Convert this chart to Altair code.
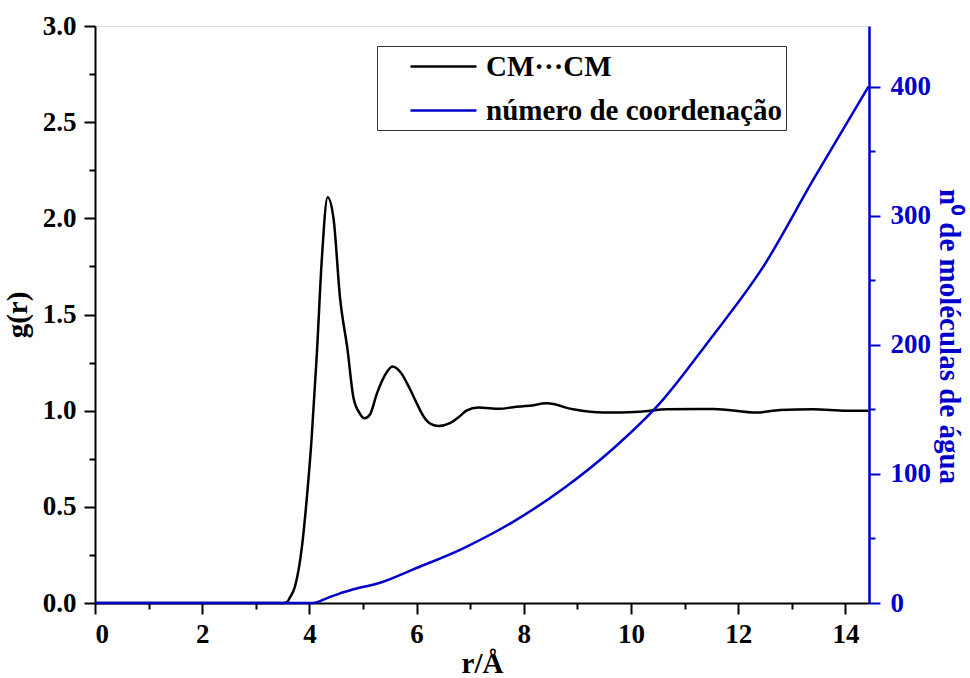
import altair as alt
import pandas as pd

# g(r) for CM...CM
r_g = [0, 3.50, 3.58, 3.64, 3.73, 3.86, 3.95, 4.04, 4.14, 4.23, 4.34, 4.45, 4.57, 4.71, 4.82,
       4.93, 5.03, 5.13, 5.26, 5.40, 5.55, 5.70, 5.88, 6.00, 6.13, 6.27, 6.41, 6.62, 6.80,
       6.93, 7.15, 7.56, 7.80, 8.10, 8.43, 8.92, 9.48, 10.17, 10.67, 11.54, 12.35, 12.78,
       13.40, 14.02, 14.43]
g_vals = [0, 0, 0.005, 0.03, 0.085, 0.29, 0.54, 0.85, 1.30, 1.78, 2.11, 2.00, 1.59, 1.32, 1.07,
          0.99, 0.96, 0.98, 1.09, 1.18, 1.23, 1.20, 1.11, 1.04, 0.97, 0.93, 0.92, 0.935, 0.97,
          1.00, 1.016, 1.01, 1.018, 1.025, 1.038, 1.007, 0.99, 0.995, 1.007, 1.009, 0.99, 1.004,
          1.007, 1.00, 1.00]

# coordination number
r_n = [0, 4.07, 4.32, 4.57, 4.82, 5.32, 5.94, 6.87, 7.80, 8.74, 9.67, 10.54, 11.47, 12.47, 13.40, 14.43]
n_vals = [0, 0, 3.6, 7.5, 10.6, 15.7, 26.1, 42.4, 62.9, 88.7, 119.7, 154.8, 204.0, 260.7, 327.9, 400.0]

series_names = ["CM···CM", "número de coordenação"]
series_colors = ["#000000", "#0000CC"]

x_ticks = list(range(0, 15))
y_left_ticks = [i * 0.25 for i in range(13)]
y_right_ticks = list(range(0, 451, 50))

FONT = "Liberation Serif"
BLUE = "#0000CC"

df_g = pd.DataFrame({"r": r_g, "v": g_vals, "s": series_names[0]})
df_n = pd.DataFrame({"r": r_n, "v": n_vals, "s": series_names[1]})

color = alt.Color(
    "s:N",
    scale=alt.Scale(domain=series_names, range=series_colors),
    legend=alt.Legend(
        title=None, orient="none", legendX=282, legendY=20,
        symbolType="M-1,0H3.4", symbolSize=900, symbolStrokeWidth=2.5,
        symbolOffset=28,
        labelFont=FONT, labelFontSize=29, labelFontWeight="bold", labelColor="black",
        labelLimit=600, rowPadding=12, padding=4, strokeColor="#333333",
        fillColor="white", labelOffset=44,
    ),
)

x_enc = alt.X(
    "r:Q",
    scale=alt.Scale(domain=[0, 14.44], nice=False, zero=False),
    axis=alt.Axis(
        title="r/Å", values=x_ticks,
        labelExpr="datum.value % 2 === 0 ? format(datum.value, 'd') : ''",
        tickSize={"condition": {"test": "datum.value % 2 === 0", "value": 11}, "value": 6},
        tickColor="black", tickWidth=2, domainColor="black", domainWidth=2,
        labelFont=FONT, labelFontSize=27, labelFontWeight="bold", labelColor="black",
        labelPadding=7, titleFont=FONT, titleFontSize=29, titleFontWeight="bold",
        titleColor="black", titlePadding=2, grid=False,
    ),
)

g_line = alt.Chart(df_g).mark_line(strokeWidth=2.5, interpolate="monotone").encode(
    x=x_enc,
    y=alt.Y(
        "v:Q",
        scale=alt.Scale(domain=[0, 3], nice=False),
        axis=alt.Axis(
            title="g(r)", orient="left", values=y_left_ticks,
            labelExpr="(round(datum.value*100) % 50 === 0) ? format(datum.value, '.1f') : ''",
            tickSize={"condition": {"test": "round(datum.value*100) % 50 === 0", "value": 11}, "value": 6},
            tickColor="black", tickWidth=2, domainColor="black", domainWidth=2,
            labelFont=FONT, labelFontSize=27, labelFontWeight="bold", labelColor="black",
            labelPadding=8, titleFont=FONT, titleFontSize=29, titleFontWeight="bold",
            titleColor="black", titlePadding=10, grid=False,
        ),
    ),
    color=color,
)

n_line = alt.Chart(df_n).mark_line(strokeWidth=2.5, interpolate="monotone").encode(
    x=x_enc,
    y=alt.Y(
        "v:Q",
        scale=alt.Scale(domain=[0, 447], nice=False),
        axis=alt.Axis(
            title="n⁰ de moléculas de água", orient="right", values=y_right_ticks,
            labelExpr="datum.value % 100 === 0 ? format(datum.value, 'd') : ''",
            tickSize={"condition": {"test": "datum.value % 100 === 0", "value": 11}, "value": 6},
            tickColor=BLUE, tickWidth=2, domainColor=BLUE, domainWidth=2.5,
            labelFont=FONT, labelFontSize=27, labelFontWeight="bold", labelColor=BLUE,
            labelPadding=10, titleFont=FONT, titleFontSize=29, titleFontWeight="bold",
            titleColor=BLUE, titlePadding=3, titleY=310, grid=False,
        ),
    ),
    color=color,
)

chart = (
    alt.layer(g_line, n_line)
    .resolve_scale(y="independent")
    .properties(
        width=774, height=577,
        autosize=alt.AutoSizeParams(type="none"),
        padding={"left": 95, "top": 26, "right": 101, "bottom": 75},
    )
    .configure_view(stroke="black", strokeWidth=2)
    .configure(background="white")
)

chart.save("out.html", embed_options={"renderer": "svg", "actions": False})
